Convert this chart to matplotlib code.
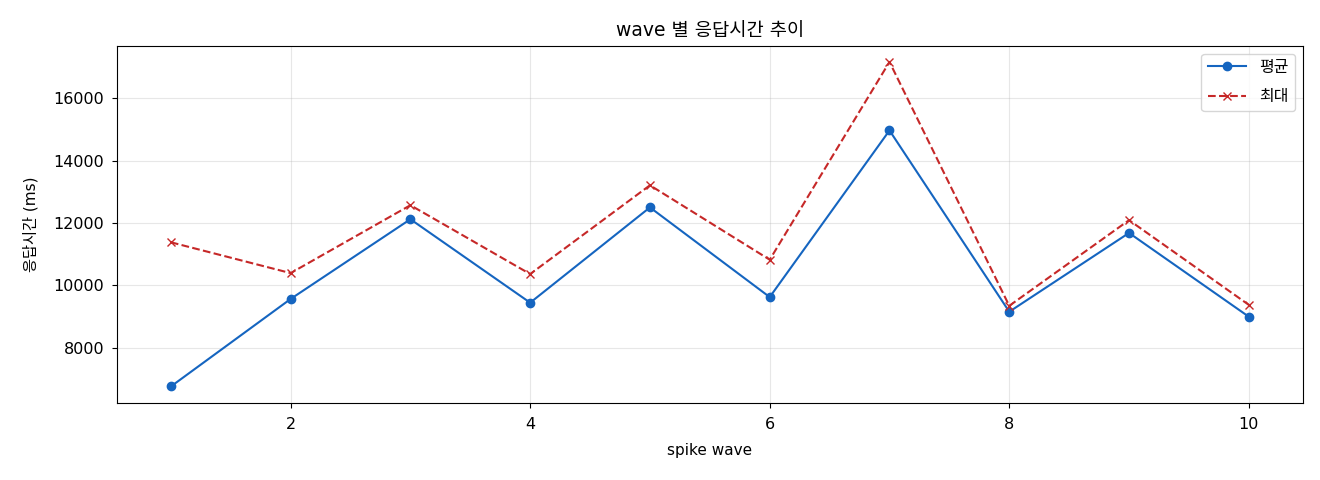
import matplotlib
matplotlib.use("Agg")
import matplotlib.pyplot as plt

plt.rcParams['font.family'] = ['DejaVu Sans', 'Noto Sans CJK KR']
plt.rcParams['axes.unicode_minus'] = False

waves = [1, 2, 3, 4, 5, 6, 7, 8, 9, 10]
avg_ms = [6750, 9560, 12120, 9440, 12500, 9620, 14970, 9150, 11680, 8990]
max_ms = [11380, 10390, 12570, 10360, 13210, 10820, 17170, 9340, 12090, 9370]

fig, ax = plt.subplots(figsize=(13.2, 4.8), dpi=100)
fig.subplots_adjust(left=0.0886, right=0.9869, top=0.9048, bottom=0.161)

ax.plot(waves, avg_ms, color='#1565c0', marker='o', linestyle='-', linewidth=1.5, markersize=6, label='평균')
ax.plot(waves, max_ms, color='#c62828', marker='x', linestyle='--', linewidth=1.5, markersize=6, label='최대')

ax.set_title('wave 별 응답시간 추이', fontsize=13.5, pad=7)
ax.set_xlabel('spike wave', fontsize=11, labelpad=7.5)
ax.set_ylabel('응답시간 (ms)', fontsize=11, labelpad=11)
ax.set_xticks([2, 4, 6, 8, 10])
ax.set_yticks([8000, 10000, 12000, 14000, 16000])
ax.tick_params(labelsize=11.5)
ax.tick_params(axis='x', pad=7)
ax.tick_params(axis='y', pad=5.5)
ax.grid(True, alpha=0.3)
ax.legend(loc='upper right', fontsize=11.5, labelspacing=0.9, handlelength=2.4)

fig.savefig('out.png', dpi=100)
